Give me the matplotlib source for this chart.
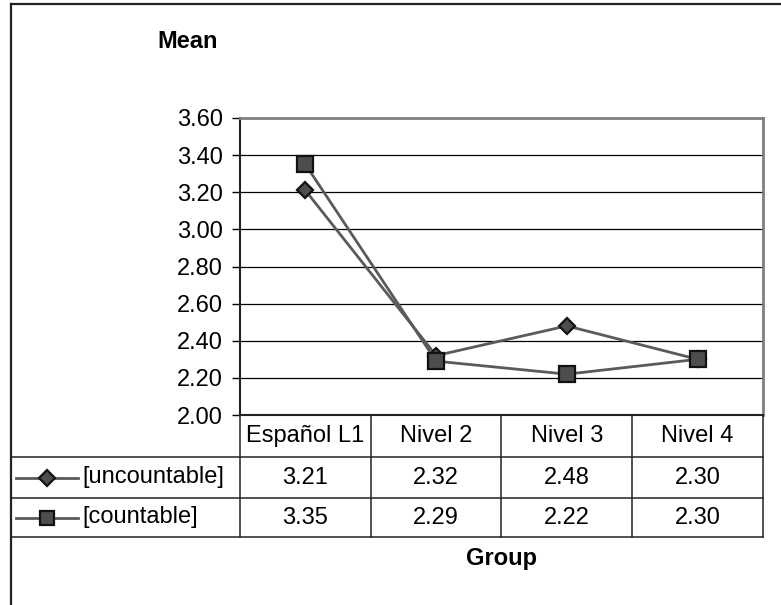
"""
Mean score by group: line chart with data table underneath (Excel style).
"""
import matplotlib
matplotlib.use("Agg")
import matplotlib.pyplot as plt
from matplotlib.lines import Line2D

W, H = 781, 605
_FONT = 17

plt.rcParams.update({
    "font.family": ["Liberation Sans", "DejaVu Sans"],
    "font.size": _FONT,
})

groups = ["Español L1", "Nivel 2", "Nivel 3", "Nivel 4"]
series_names = ["[uncountable]", "[countable]"]
uncountable = [3.21, 2.32, 2.48, 2.30]
countable = [3.35, 2.29, 2.22, 2.30]
y_ticks = [2.00, 2.20, 2.40, 2.60, 2.80, 3.00, 3.20, 3.40, 3.60]

series = [uncountable, countable]
markers = ["D", "s"]
marker_sizes = [8.5, 11]
LINE_C = "#5a5a5a"
FILL_C = "#4d4d4d"

# layout in pixels (top-left origin)
PL, PR, PT, PB = 240, 763, 118, 415
ROW_Y = [415, 457, 498, 537]
FRAME_X, FRAME_Y = 11, 4


def fx(x):
    return x / W


def fy(y):
    return 1 - y / H


fig = plt.figure(figsize=(W / 100, H / 100), dpi=100)
ax = fig.add_axes([fx(PL), fy(PB), (PR - PL) / W, (PB - PT) / H])

for vals, m, ms in zip(series, markers, marker_sizes):
    ax.plot(range(len(groups)), vals, color=LINE_C, lw=2, marker=m, ms=ms,
            mfc=FILL_C, mec="#111111", mew=1.6, zorder=5, clip_on=False)

ax.set_xlim(-0.5, len(groups) - 0.5)
ax.set_ylim(y_ticks[0], y_ticks[-1])
ax.set_yticks(y_ticks)
ax.set_yticklabels([f"{t:.2f}" for t in y_ticks])
ax.set_xticks([])
for t in y_ticks[1:-1]:
    ax.axhline(t, color="black", lw=0.9, zorder=1)
ax.tick_params(axis="y", direction="out", length=5.5, width=1, pad=7,
               labelsize=_FONT)
ax.spines["left"].set_color("#222222")
ax.spines["left"].set_linewidth(1.5)
ax.spines["bottom"].set_color("#222222")
ax.spines["bottom"].set_linewidth(1.5)
for s in ("top", "right"):
    ax.spines[s].set_color("#7f7f7f")
    ax.spines[s].set_linewidth(2)

# outer chart frame (top and left visible)
fig.add_artist(Line2D([fx(FRAME_X), 1.0], [fy(FRAME_Y)] * 2,
                      transform=fig.transFigure, color="#222222", lw=1.6))
fig.add_artist(Line2D([fx(FRAME_X)] * 2, [fy(FRAME_Y), 0.0],
                      transform=fig.transFigure, color="#222222", lw=1.6))

# data table
col_w = (PR - PL) / len(groups)
col_x = [PL + i * col_w for i in range(len(groups) + 1)]
for y in ROW_Y[1:]:
    fig.add_artist(Line2D([fx(FRAME_X), fx(PR)], [fy(y)] * 2,
                          transform=fig.transFigure, color="#222222", lw=1.1))
for x in col_x:
    fig.add_artist(Line2D([fx(x)] * 2, [fy(ROW_Y[0]), fy(ROW_Y[-1])],
                          transform=fig.transFigure, color="#222222", lw=1.1))

for i, g in enumerate(groups):
    cx = col_x[i] + col_w / 2
    fig.text(fx(cx), fy((ROW_Y[0] + ROW_Y[1]) / 2), g,
             ha="center", va="center")
    for r, vals in enumerate(series):
        cy = (ROW_Y[r + 1] + ROW_Y[r + 2]) / 2
        fig.text(fx(cx), fy(cy), f"{vals[i]:.2f}", ha="center", va="center")

for r, (name, m, ms) in enumerate(zip(series_names, markers, marker_sizes)):
    cy = (ROW_Y[r + 1] + ROW_Y[r + 2]) / 2
    fig.add_artist(Line2D([fx(16), fx(78)], [fy(cy)] * 2,
                          transform=fig.transFigure, color=LINE_C, lw=2))
    fig.add_artist(Line2D([fx(47)], [fy(cy)], transform=fig.transFigure,
                          marker=m, ms=ms * 0.95, mfc=FILL_C, mec="#111111",
                          mew=1.6, lw=0))
    fig.text(fx(82), fy(cy), name, ha="left", va="center")

fig.text(fx(188), fy(42), "Mean", ha="center", va="center",
         fontweight="bold")
fig.text(fx((PL + PR) / 2), fy(559), "Group", ha="center", va="center",
         fontweight="bold")

fig.savefig("out.png", dpi=100)
